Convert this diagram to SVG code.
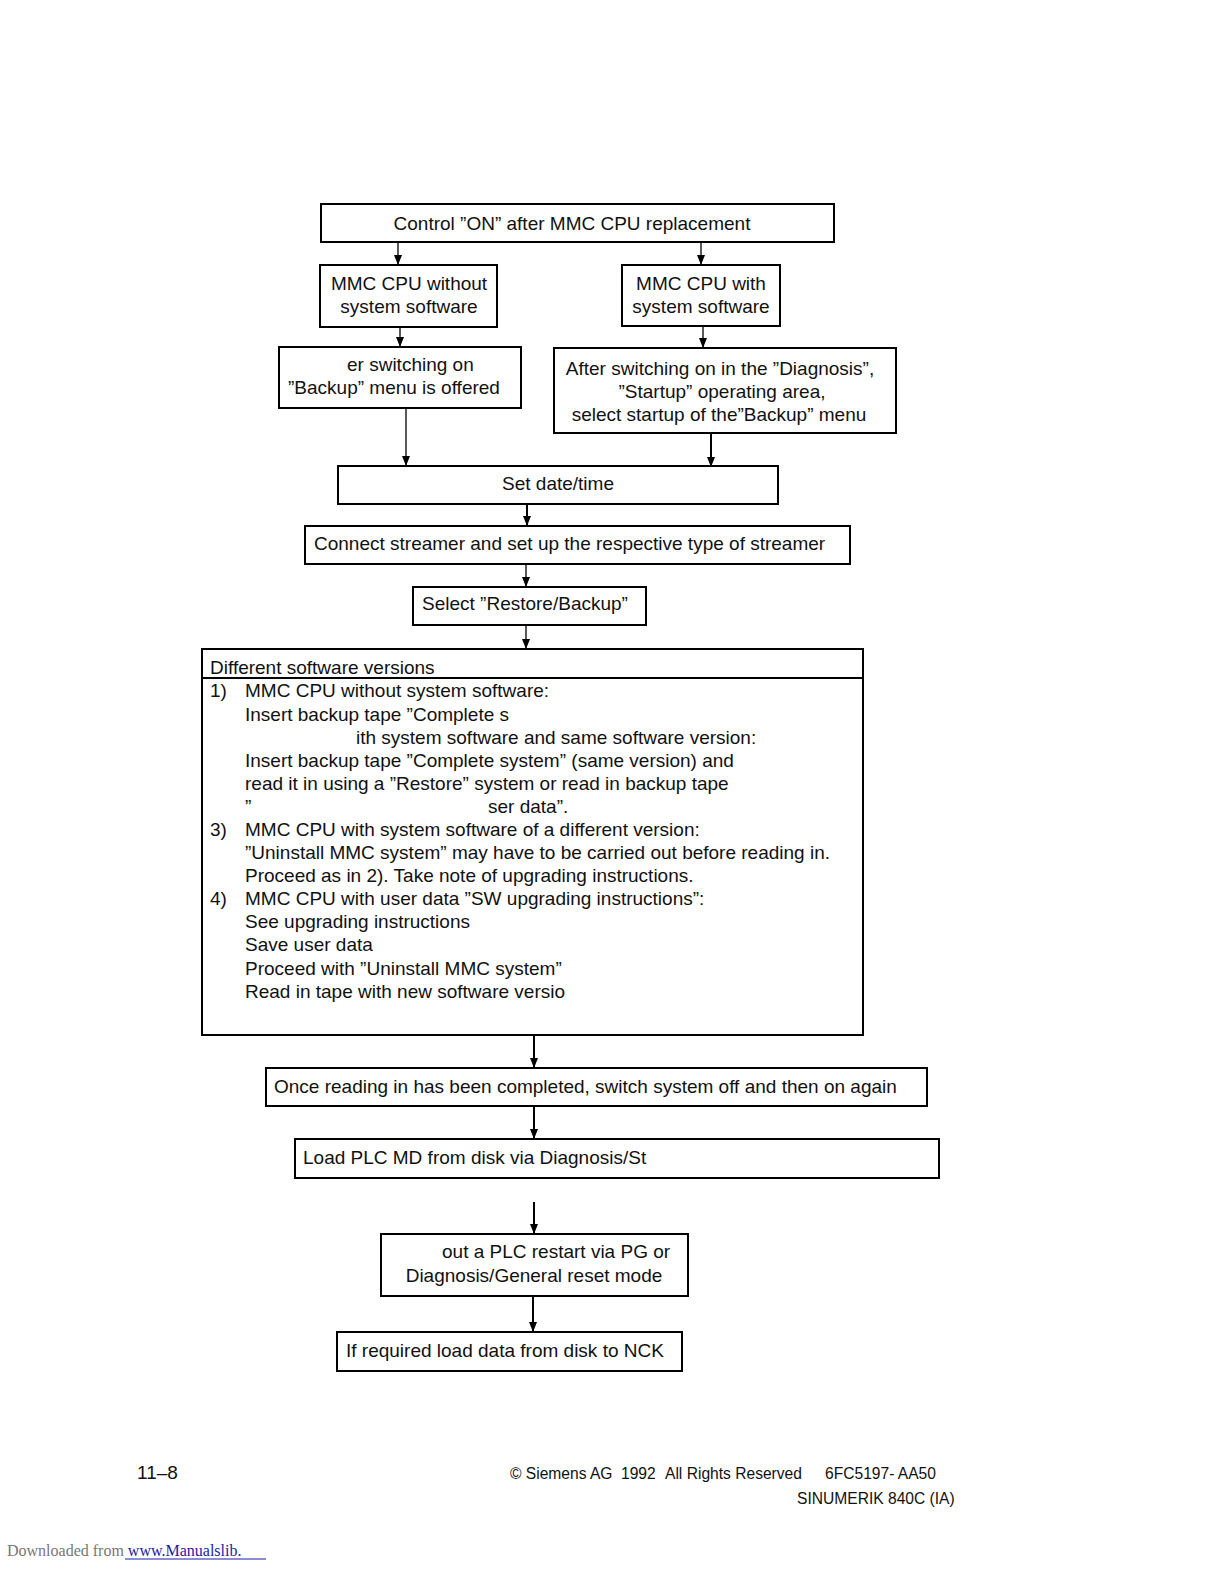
<svg xmlns="http://www.w3.org/2000/svg" width="1224" height="1584" viewBox="0 0 1224 1584">
<style>
  .box { fill: #ffffff; stroke: #000000; stroke-width: 2; }
  .t { font-family: "Liberation Sans", Arial, sans-serif; font-size: 19px; fill: #111111; }
  .c { text-anchor: middle; }
  .con { stroke: #000000; stroke-width: 1.3; fill: none; marker-end: url(#ah); }
  .con2 { stroke: #000000; stroke-width: 2; fill: none; marker-end: url(#ah); }
  .foot { font-family: "Liberation Sans", Arial, sans-serif; font-size: 15.6px; fill: #111111; }
  .pg { font-family: "Liberation Sans", Arial, sans-serif; font-size: 19px; fill: #111111; }
  .dl { font-family: "Liberation Serif", "Times New Roman", serif; font-size: 16px; }
</style>
<defs>
  <marker id="ah" markerUnits="userSpaceOnUse" markerWidth="10" markerHeight="12" refX="10" refY="4" orient="auto" viewBox="0 0 10 8">
    <path d="M0,0 L10,4 L0,8 Z" fill="#000000"/>
  </marker>
</defs>
<rect width="1224" height="1584" fill="#ffffff"/>

<g id="connectors">
  <line class="con" x1="398" y1="243" x2="398" y2="265"/>
  <line class="con" x1="701" y1="243" x2="701" y2="265"/>
  <line class="con" x1="400" y1="327" x2="400" y2="347"/>
  <line class="con" x1="703" y1="326" x2="703" y2="348"/>
  <line class="con" x1="406" y1="409" x2="406" y2="466"/>
  <line class="con2" x1="711" y1="434" x2="711" y2="467"/>
  <line class="con2" x1="527" y1="505" x2="527" y2="526"/>
  <line class="con" x1="526" y1="565" x2="526" y2="587"/>
  <line class="con" x1="526" y1="626" x2="526" y2="649"/>
  <line class="con2" x1="534" y1="1036" x2="534" y2="1068"/>
  <line class="con2" x1="534" y1="1107" x2="534" y2="1139"/>
  <line class="con2" x1="534" y1="1202" x2="534" y2="1234"/>
  <line class="con2" x1="533" y1="1297" x2="533" y2="1332"/>
</g>

<g id="n-control-on">
  <rect class="box" x="321" y="204" width="513" height="38"/>
  <text class="t c" x="572" y="230">Control ”ON” after MMC CPU replacement</text>
</g>

<g id="n-without">
  <rect class="box" x="320" y="265" width="177" height="62"/>
  <text class="t c" x="409" y="290">MMC CPU without</text>
  <text class="t c" x="409" y="313">system software</text>
</g>

<g id="n-with">
  <rect class="box" x="622" y="265" width="158" height="61"/>
  <text class="t c" x="701" y="290">MMC CPU with</text>
  <text class="t c" x="701" y="313">system software</text>
</g>

<g id="n-backup-offered">
  <rect class="box" x="279" y="347" width="242" height="61"/>
  <text class="t" x="347" y="371">er switching on</text>
  <text class="t" x="288" y="394">”Backup” menu is offered</text>
</g>

<g id="n-diagnosis">
  <rect class="box" x="554" y="348" width="342" height="85"/>
  <text class="t c" x="720" y="375">After switching on in the ”Diagnosis”,</text>
  <text class="t c" x="722" y="398">”Startup” operating area,</text>
  <text class="t c" x="719" y="421">select startup of the”Backup” menu</text>
</g>

<g id="n-date">
  <rect class="box" x="338" y="466" width="440" height="38"/>
  <text class="t c" x="558" y="490">Set date/time</text>
</g>

<g id="n-streamer">
  <rect class="box" x="305" y="526" width="545" height="38"/>
  <text class="t" x="314" y="550">Connect streamer and set up the respective type of streamer</text>
</g>

<g id="n-restore">
  <rect class="box" x="413" y="587" width="233" height="38"/>
  <text class="t" x="422" y="610">Select ”Restore/Backup”</text>
</g>

<g id="n-versions">
  <rect class="box" x="202" y="649" width="661" height="386"/>
  <line x1="202" y1="678" x2="863" y2="678" stroke="#000000" stroke-width="2"/>
  <text class="t" x="210" y="674">Different software versions</text>
  <text class="t" x="210" y="697">1)</text>
  <text class="t" x="245" y="697">MMC CPU without system software:</text>
  <text class="t" x="245" y="721">Insert backup tape ”Complete s</text>
  <text class="t" x="356" y="744">ith system software and same software version:</text>
  <text class="t" x="245" y="767">Insert backup tape ”Complete system” (same version) and</text>
  <text class="t" x="245" y="790">read it in using a ”Restore” system or read in backup tape</text>
  <text class="t" x="245" y="813">”</text>
  <text class="t" x="488" y="813">ser data”.</text>
  <text class="t" x="210" y="836">3)</text>
  <text class="t" x="245" y="836">MMC CPU with system software of a different version:</text>
  <text class="t" x="245" y="859">”Uninstall MMC system” may have to be carried out before reading in.</text>
  <text class="t" x="245" y="882">Proceed as in 2). Take note of upgrading instructions.</text>
  <text class="t" x="210" y="905">4)</text>
  <text class="t" x="245" y="905">MMC CPU with user data ”SW upgrading instructions”:</text>
  <text class="t" x="245" y="928">See upgrading instructions</text>
  <text class="t" x="245" y="951">Save user data</text>
  <text class="t" x="245" y="975">Proceed with ”Uninstall MMC system”</text>
  <text class="t" x="245" y="998">Read in tape with new software versio</text>
</g>

<g id="n-switch-off">
  <rect class="box" x="266" y="1068" width="661" height="38"/>
  <text class="t" x="274" y="1093">Once reading in has been completed, switch system off and then on again</text>
</g>

<g id="n-load-plc">
  <rect class="box" x="295" y="1139" width="644" height="39"/>
  <text class="t" x="303" y="1164">Load PLC MD from disk via Diagnosis/St</text>
</g>

<g id="n-plc-restart">
  <rect class="box" x="381" y="1234" width="307" height="62"/>
  <text class="t" x="442" y="1258">out a PLC restart via PG or</text>
  <text class="t c" x="534" y="1282">Diagnosis/General reset mode</text>
</g>

<g id="n-nck">
  <rect class="box" x="337" y="1332" width="345" height="39"/>
  <text class="t" x="346" y="1357">If required load data from disk to NCK</text>
</g>

<g id="footer">
  <text class="pg" x="137" y="1479">11–8</text>
  <text class="foot" x="510" y="1479">© Siemens AG</text>
  <text class="foot" x="621" y="1479">1992</text>
  <text class="foot" x="665" y="1479">All Rights Reserved</text>
  <text class="foot" x="825" y="1479">6FC5197- AA50</text>
  <text class="foot" x="797" y="1504">SINUMERIK 840C (IA)</text>
  <text class="dl" x="7" y="1556" fill="#777777">Downloaded from <tspan fill="#1a1aa6">www.Manualslib.</tspan></text>
  <line x1="125" y1="1559" x2="266" y2="1559" stroke="#1a1aa6" stroke-width="1"/>
</g>
</svg>
